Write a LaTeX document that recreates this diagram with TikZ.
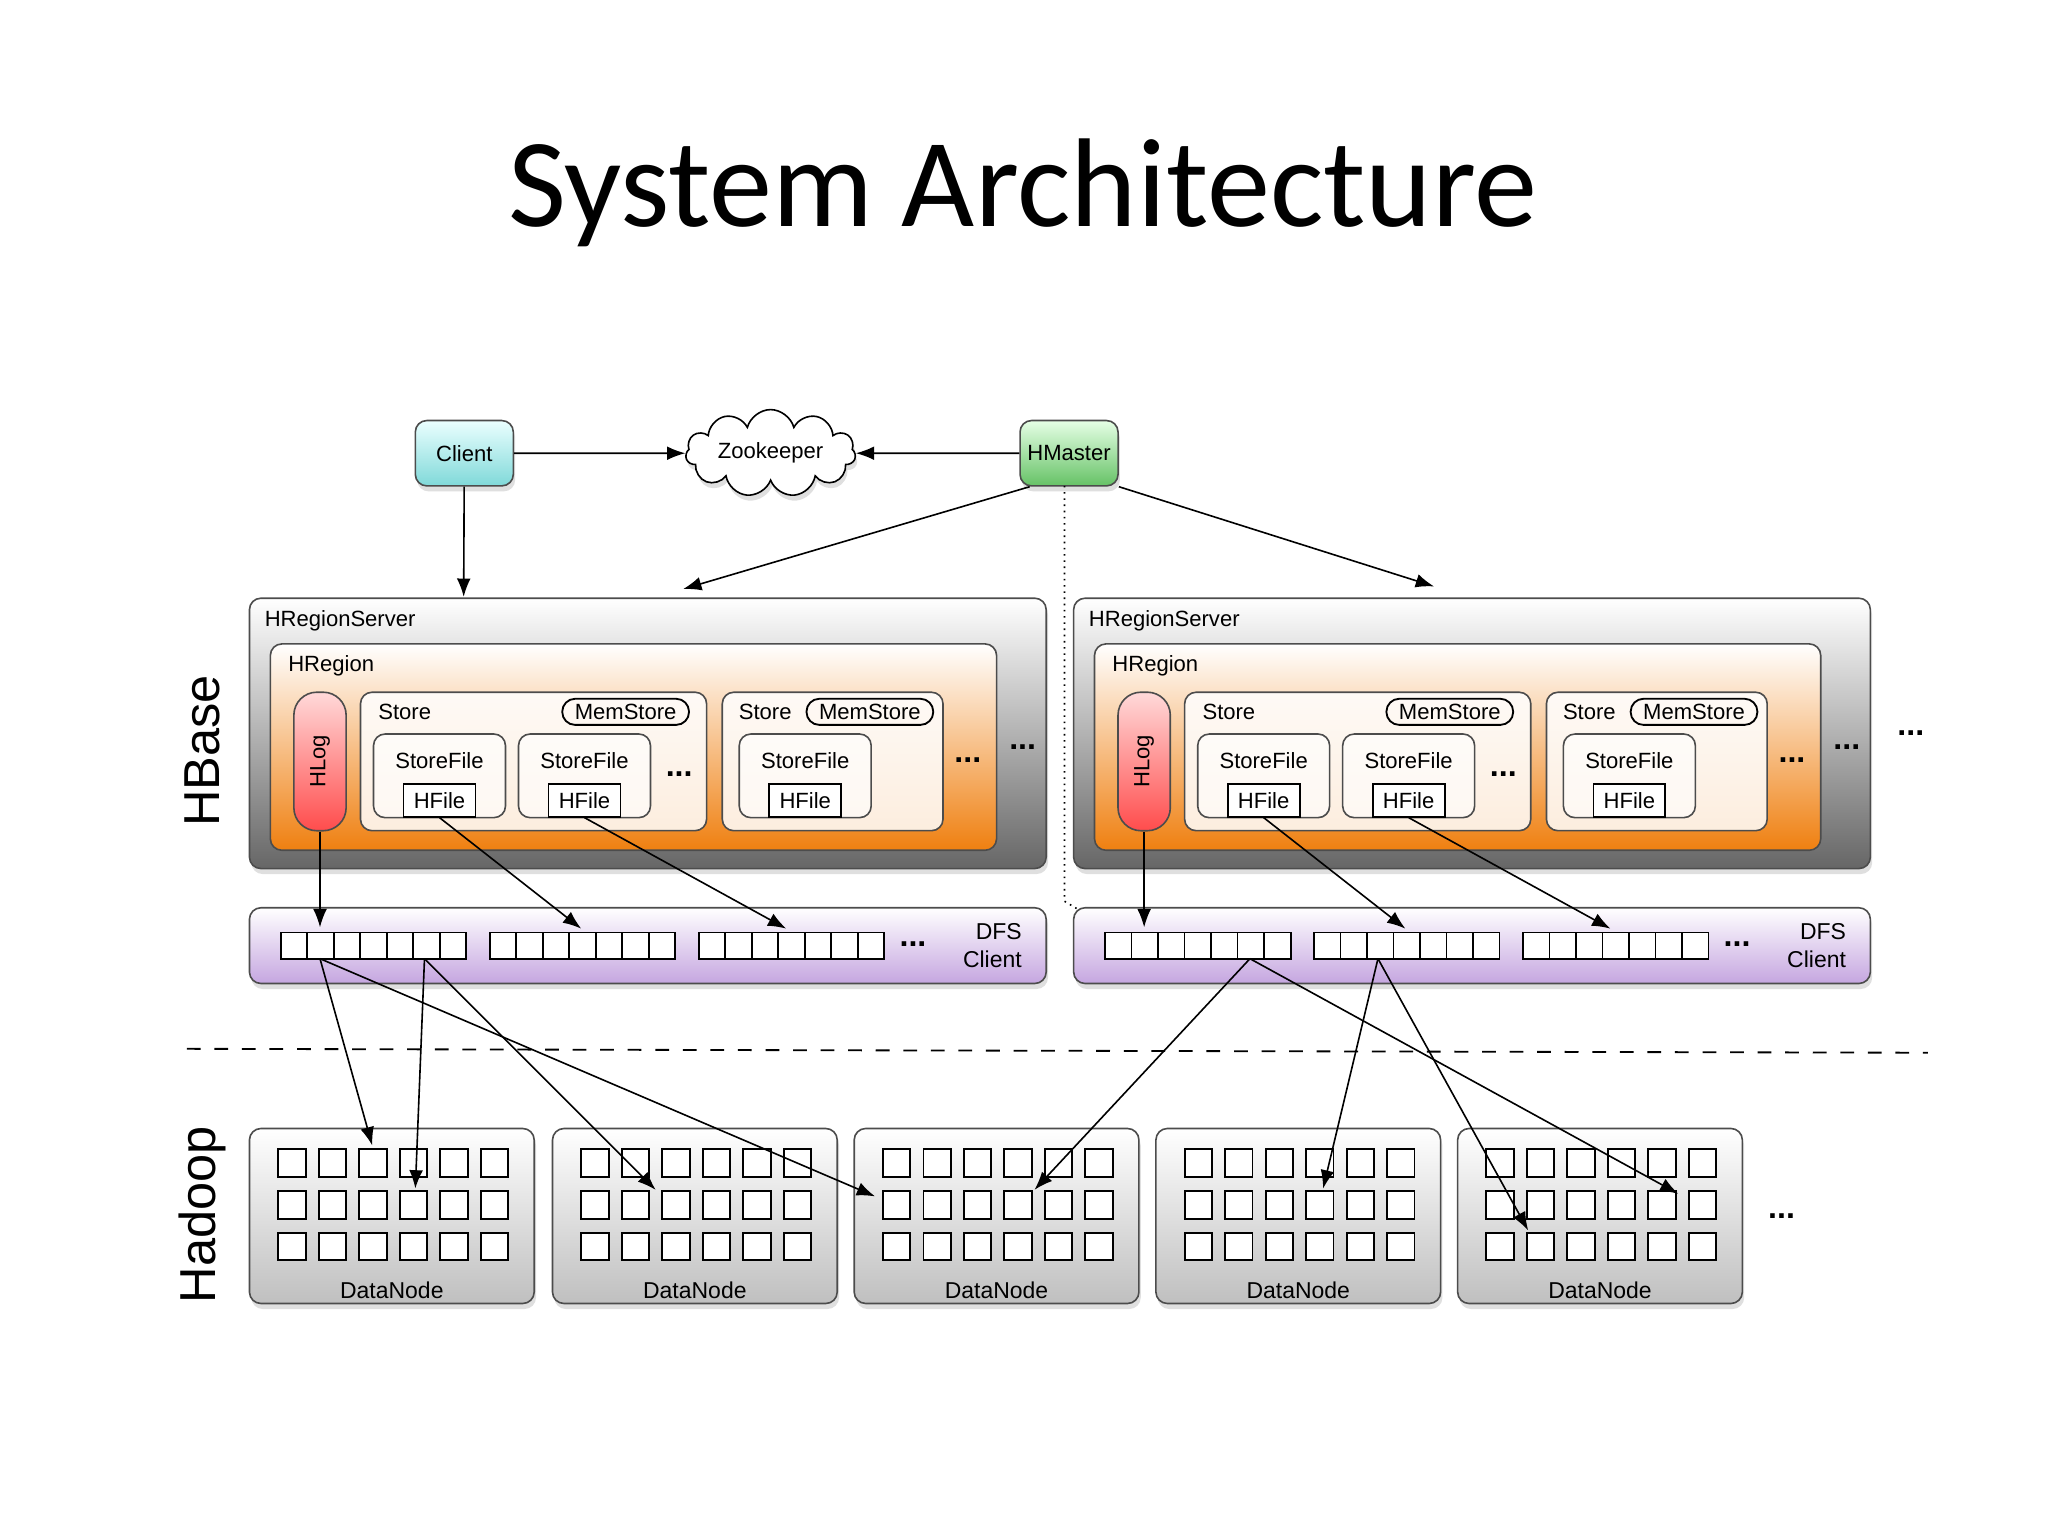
\documentclass[tikz,border=0pt]{standalone}
\usepackage{fontspec}
\setmainfont{Liberation Sans}
\newfontfamily\titlefont{Carlito}
\usetikzlibrary{shapes.symbols,shadows,arrows.meta}
\begin{document}
\begin{tikzpicture}[x=0.01cm,y=-0.01cm,
  lbl/.style={font=\fontsize{4.8}{5}\selectfont,inner sep=0pt},
  arr/.style={-{Latex[length=4pt,width=3pt]},line width=0.35pt},
  shd/.style={drop shadow={opacity=0.25,shadow xshift=0.4pt,shadow yshift=-1.2pt}},
  box/.style={draw=black!70,line width=0.35pt,rounded corners=2.5pt},
  server/.style={box,top color=white,bottom color=black!60,shd},
  region/.style={box,top color=white,bottom color=orange!75!brown},
  store/.style={box,fill=white,fill opacity=0.85},
  sfile/.style={box,fill=white,fill opacity=0.6},
  hlog/.style={box,top color=red!15,bottom color=red!70,rounded corners=5pt},
  mem/.style={lbl,draw,rounded corners=2.8pt,minimum width=0.97cm,minimum height=0.2cm,inner ysep=0.6pt},
  hfile/.style={lbl,draw,fill=white,minimum width=0.55cm,minimum height=0.25cm,anchor=south},
  dfs/.style={box,top color=white,bottom color=blue!30!violet!35,shd},
  dnode/.style={box,top color=white,bottom color=black!25,shd},
  cell/.style={draw=black,line width=0.4pt,fill=white},
  dots/.style={font=\fontsize{7}{7}\selectfont\bfseries,inner sep=0pt}]
\useasboundingbox (0,0) rectangle (1568,1176);
\fill[white] (0,0) rectangle (1568,1176);

\node[font=\titlefont\fontsize{27.5}{30}\selectfont] (title) at (783,148) {System Architecture};

% top row
\node[box,minimum width=0.75cm,minimum height=0.5cm,top color=cyan!8,bottom color=cyan!40!teal!50,lbl,shd] (client) at (355.5,347) {Client};
\node[cloud,cloud puffs=11,aspect=2.6,draw,line width=0.35pt,fill=white,minimum width=1.3cm,minimum height=0.55cm,lbl,shd] (zk) at (590,347) {Zookeeper};
\node[box,minimum width=0.75cm,minimum height=0.5cm,top color=green!10,bottom color=green!60!black!60,lbl,shd] (hmaster) at (818.5,347) {HMaster};

\draw[arr] (client) -- (zk);
\draw[arr] (hmaster) -- (zk);
\coordinate (c1) at (355,457);
\coordinate (m1) at (523,451);
\coordinate (m2) at (1098,449);
\draw[arr] (client) -- (c1);
\draw[arr] (hmaster.south west) ++(8,0) -- (m1);
\draw[arr] (hmaster.south east) -- (m2);
\coordinate (dotend) at (850,711);
\draw[arr,densely dotted] (815,372) -- (815,690) -- (dotend);

\foreach \s/\dx in {a/0,b/631}{
\begin{scope}[xshift=\dx*0.01cm]
  \draw[server] (191,458) rectangle (801,665);
  \node[lbl,anchor=west] (srv\s) at (202,475) {HRegionServer};
  \draw[region] (207,493) rectangle (763,651);
  \node[lbl,anchor=west] (reg\s) at (220,510) {HRegion};
  \node[hlog,minimum width=0.4cm,minimum height=1.06cm] (hlog\s) at (245,583) {};
  \node[lbl,rotate=90] at (hlog\s) {HLog};
  % store 1
  \draw[store] (276,530) rectangle (541,636);
  \node[lbl,anchor=west] (st1\s) at (289,545) {Store};
  \node[mem] (ms1\s) at (479,545) {MemStore};
  \draw[sfile] (286,562) rectangle (387,626);
  \node[lbl] (sf1\s) at (336.5,582) {StoreFile};
  \node[hfile] (hf1\s) at (336.5,626) {HFile};
  \draw[sfile] (397,562) rectangle (498,626);
  \node[lbl] (sf2\s) at (447.5,582) {StoreFile};
  \node[hfile] (hf2\s) at (447.5,626) {HFile};
  \node[dots] at (520,593) {...};
  % store 2
  \draw[store] (553,530) rectangle (722,636);
  \node[lbl,anchor=west] (st2\s) at (565,545) {Store};
  \node[mem] (ms2\s) at (666,545) {MemStore};
  \draw[sfile] (566,562) rectangle (667,626);
  \node[lbl] (sf3\s) at (616.5,582) {StoreFile};
  \node[hfile] (hf3\s) at (616.5,626) {HFile};
  \node[dots] at (741,582) {...};
  \node[dots] at (783,572) {...};
  % DFS client
  \draw[dfs] (191,695) rectangle (801,753);
  \foreach \g in {0,1,2}
    \foreach \i in {0,...,6}
      \draw[cell] (215+\g*160+\i*20.3,714) rectangle ++(20.3,20);
  \node[dots] at (699,723) {...};
  \node[lbl,align=right,anchor=east,font=\fontsize{5}{6}\selectfont] (dfs\s) at (783,724) {DFS\\Client};
  \coordinate (g1\s) at (245,710);
  \coordinate (g2\s) at (445,711);
  \coordinate (g3\s) at (602,711);
  \draw[arr] (hlog\s) -- (g1\s);
  \draw[arr] (hf1\s.south) -- (g2\s);
  \draw[arr] (hf2\s.south) -- (g3\s);
\end{scope}
}
\node[dots] at (1463,561) {...};

\draw[dashed,line width=0.4pt] (143,803) -- (1476,806);

% data nodes
\foreach \x [count=\n] in {191,423,654,885,1116}{
  \draw[dnode] (\x,864) rectangle ++(218,134);
  \foreach \r in {0,1,2}
    \foreach \c in {0,...,5}
      \draw[cell] (\x+22+\c*31,880+\r*32) rectangle ++(21,21);
  \node[lbl,font=\fontsize{5}{6}\selectfont] (dn\n) at (\x+109,988) {DataNode};
}
\node[dots] at (1364,931) {...};

\coordinate (o1a) at (245,734);
\coordinate (o2a) at (325,734);
\coordinate (o1b) at (957,734);
\coordinate (o2b) at (1055,734);
\coordinate (t1) at (285,877);
\coordinate (t2) at (670,916);
\coordinate (t3) at (318,910);
\coordinate (t4) at (502,911);
\coordinate (t5) at (792,911);
\coordinate (t6) at (1285,914);
\coordinate (t7) at (1013,910);
\coordinate (t8) at (1170,942);
\draw[arr] (o1a) -- (t1);
\draw[arr] (o1a) -- (t2);
\draw[arr] (o2a) -- (t3);
\draw[arr] (o2a) -- (t4);
\draw[arr] (o1b) -- (t5);
\draw[arr] (o1b) -- (t6);
\draw[arr] (o2b) -- (t7);
\draw[arr] (o2b) -- (t8);

\node[rotate=90,font=\fontsize{11}{12}\selectfont] (hbase) at (155,575) {HBase};
\node[rotate=90,font=\fontsize{11}{12}\selectfont] (hadoop) at (155,930) {Hadoop};
\end{tikzpicture}
\end{document}
